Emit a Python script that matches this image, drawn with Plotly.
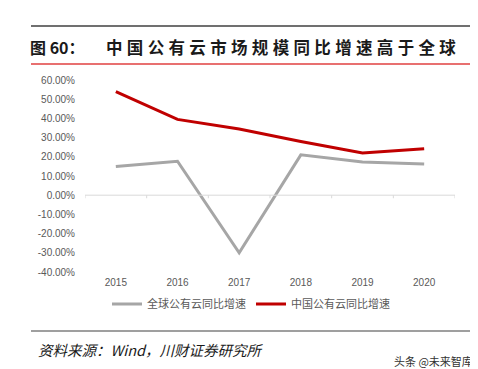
import plotly.graph_objects as go

years = ["2015", "2016", "2017", "2018", "2019", "2020"]
global_growth = [15.0, 17.7, -30.0, 21.0, 17.3, 16.3]
china_growth = [54.0, 39.5, 34.5, 28.0, 22.0, 24.2]
y_ticks = [-40, -30, -20, -10, 0, 10, 20, 30, 40, 50, 60]
y_tick_text = [f"{v:.2f}%" for v in y_ticks]

W, H = 478, 369
L, R, T, B = 77, 447, 72, 264

def px(x):
    return (x - L) / (R - L)

def py(y):
    return (B - y) / (B - T)

fig = go.Figure()
fig.add_trace(go.Scatter(x=years, y=global_growth, mode="lines", name="全球公有云同比增速",
                         line=dict(color="#a6a6a6", width=3)))
fig.add_trace(go.Scatter(x=years, y=china_growth, mode="lines", name="中国公有云同比增速",
                         line=dict(color="#c00000", width=3)))

shapes = []
shapes.append(dict(type="line", xref="x", yref="y", x0=-0.5, x1=5.5, y0=0, y1=0,
                   line=dict(color="#d9d9d9", width=1)))
for i in range(7):
    shapes.append(dict(type="line", xref="x", yref="y", x0=i - 0.5, x1=i - 0.5, y0=0, y1=-1.6,
                       line=dict(color="#d9d9d9", width=1)))
shapes.append(dict(type="line", xref="paper", yref="paper", x0=px(23), x1=px(462), y0=py(18), y1=py(18),
                   line=dict(color="#404040", width=1.5)))
shapes.append(dict(type="line", xref="paper", yref="paper", x0=px(23), x1=px(462), y0=py(56), y1=py(56),
                   line=dict(color="#e04040", width=1.5)))
shapes.append(dict(type="line", xref="paper", yref="paper", x0=px(23), x1=px(462), y0=py(323), y1=py(323),
                   line=dict(color="#404040", width=1.2)))

sp = "\u2009\u200a"
title_main = sp.join("中国公有云市场规模同比增速高于全球")
annotations = [
    dict(xref="paper", yref="paper", x=px(20), y=py(39), xanchor="left", yanchor="middle",
         text="<b>图 60：</b>", showarrow=False,
         font=dict(family="Noto Sans CJK SC", size=16, color="#1a1a1a")),
    dict(xref="paper", yref="paper", x=px(96), y=py(39), xanchor="left", yanchor="middle",
         text=f"<b>{title_main}</b>", showarrow=False,
         font=dict(family="Noto Sans CJK SC", size=16.5, color="#1a1a1a")),
    dict(xref="paper", yref="paper", x=px(28), y=py(341), xanchor="left", yanchor="middle",
         text="<i>资料来源：Wind，川财证券研究所</i>", showarrow=False,
         font=dict(family="Noto Sans CJK SC", size=14.5, color="#1a1a1a")),
    dict(xref="paper", yref="paper", x=px(467), y=py(353), xanchor="right", yanchor="middle",
         text="头条 @未来智库", showarrow=False,
         font=dict(family="Noto Sans CJK SC", size=11, color="#333333")),
]

fig.update_layout(
    width=W, height=H,
    margin=dict(l=L, r=W - R, t=T, b=H - B, pad=0),
    paper_bgcolor="white", plot_bgcolor="white",
    font=dict(family="Liberation Sans, Arial", color="#595959", size=10),
    showlegend=True,
    legend=dict(orientation="h", xref="paper", yref="paper", x=px(243), y=py(296),
                xanchor="center", yanchor="middle", itemwidth=30,
                font=dict(family="Noto Sans CJK SC", size=11, color="#595959"),
                bgcolor="rgba(0,0,0,0)"),
    xaxis=dict(type="category", range=[-0.5, 5.5], showgrid=False, showline=False, zeroline=False,
               ticks="", ticklabelstandoff=3, tickfont=dict(size=10, color="#595959")),
    yaxis=dict(range=[-40, 60], tickvals=y_ticks, ticktext=y_tick_text, showgrid=False,
               showline=False, zeroline=False, ticks="", ticklabelstandoff=9,
               tickfont=dict(size=10, color="#595959")),
    shapes=shapes, annotations=annotations,
)

fig.write_html("out.html")
